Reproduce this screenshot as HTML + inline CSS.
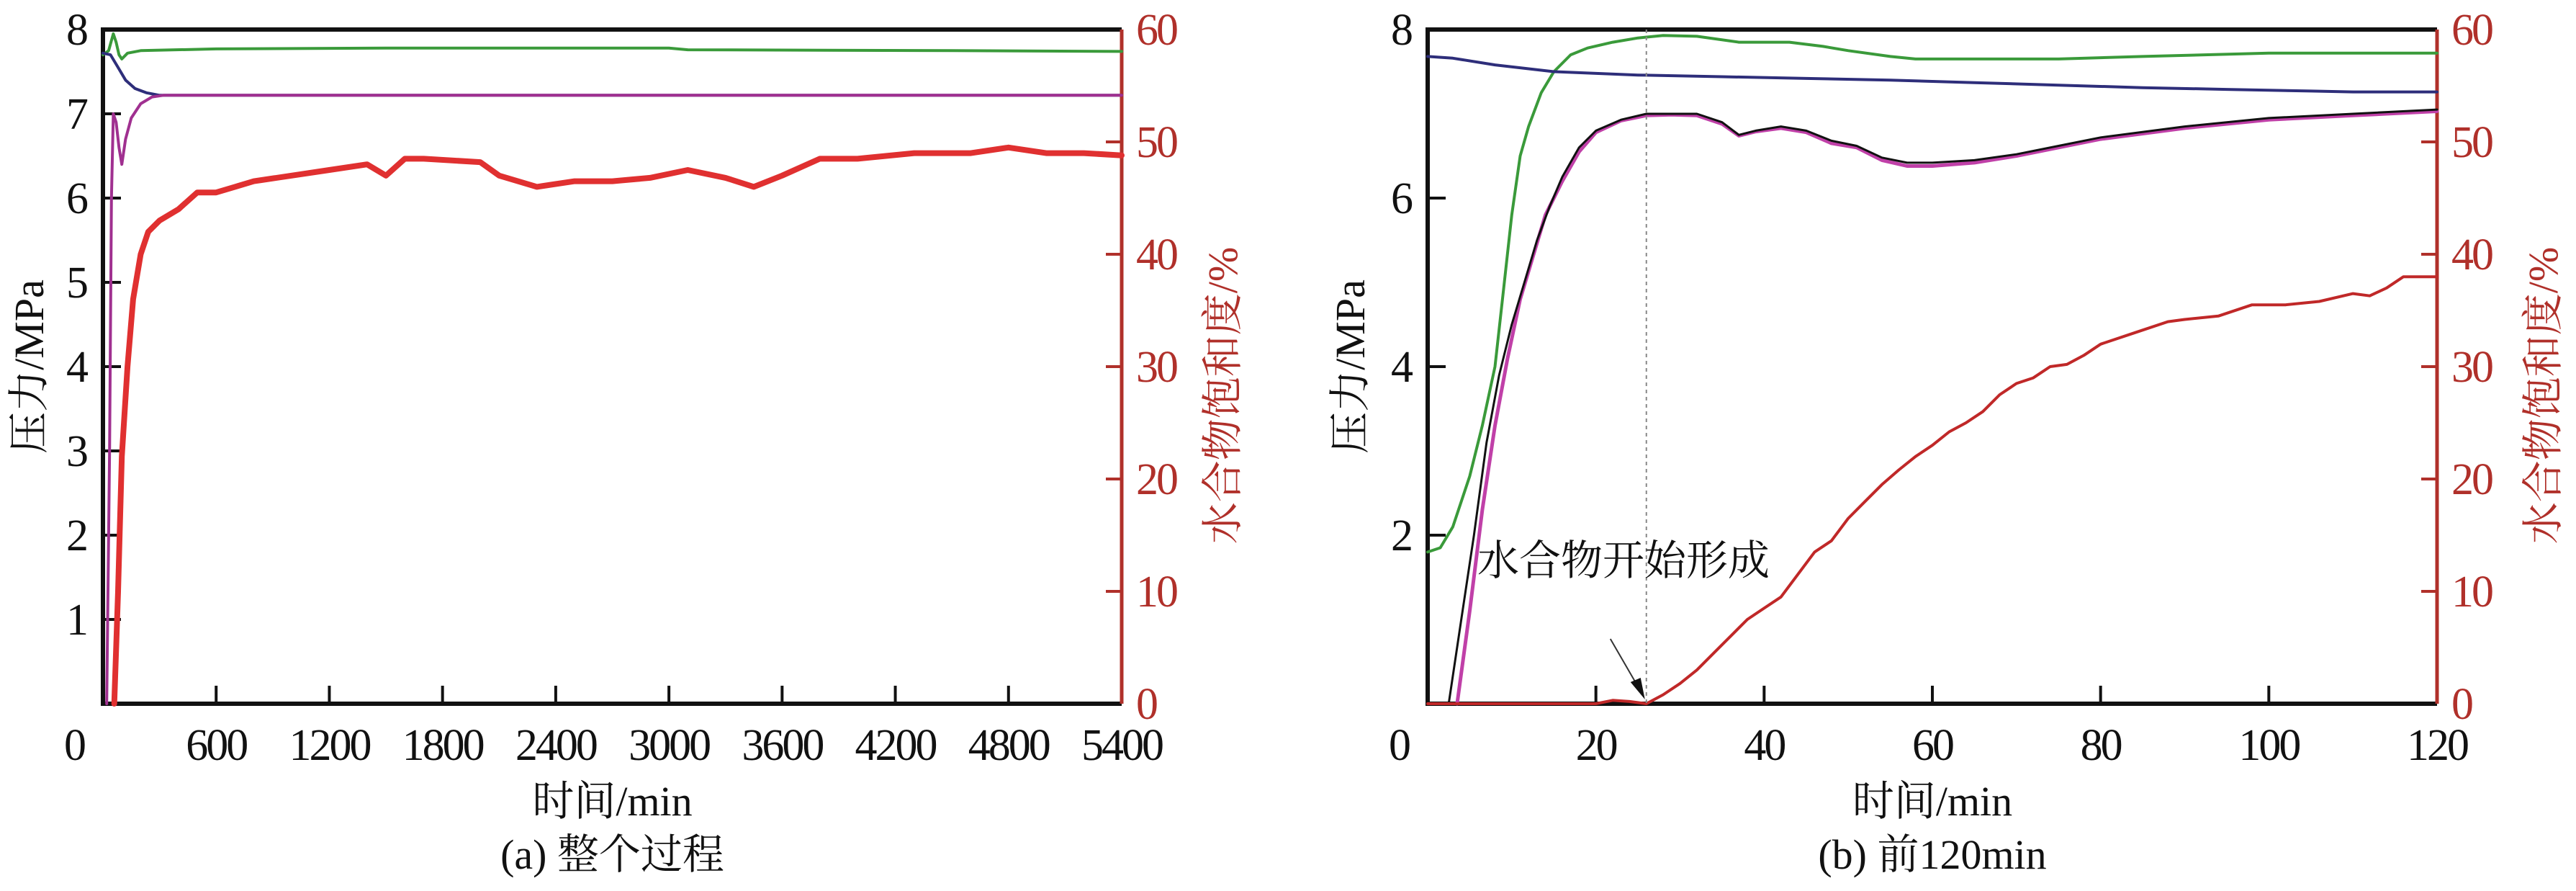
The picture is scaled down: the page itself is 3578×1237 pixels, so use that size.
<!DOCTYPE html>
<html><head><meta charset="utf-8">
<style>
html,body{margin:0;padding:0;background:#fff;}
svg{display:block;}
text{font-family:"Liberation Serif","Noto Serif CJK SC","Noto Sans CJK SC",serif;}
</style></head>
<body>
<svg id="fig" width="3578" height="1237" viewBox="0 0 3578 1237" xmlns="http://www.w3.org/2000/svg"></svg>
<script>
// ---------- Data: chart (a) whole process ----------
const aXTicks = [0,600,1200,1800,2400,3000,3600,4200,4800,5400];
const aYTicks = [1,2,3,4,5,6,7,8];
const aSTicks = [0,10,20,30,40,50,60];
const aGreenT = [0,30,55,70,85,100,130,200,600,1500,3000,3100,4500,5400];
const aGreenP = [7.7,7.75,7.95,7.85,7.7,7.65,7.72,7.75,7.77,7.78,7.78,7.76,7.75,7.74];
const aBlueT = [0,40,80,120,170,230,300,1000,3000,5400];
const aBlueP = [7.72,7.7,7.55,7.4,7.3,7.25,7.22,7.22,7.22,7.22];
const aMagT = [20,35,45,55,70,85,100,120,150,200,260,320,5400];
const aMagP = [0,3,6,7.0,6.9,6.6,6.4,6.7,6.95,7.12,7.2,7.22,7.22];
const aRedT = [60,80,100,130,160,200,240,300,400,500,600,700,800,1000,1200,1400,1500,1600,1700,2000,2100,2300,2500,2700,2900,3100,3300,3450,3600,3800,4000,4300,4600,4800,5000,5200,5400];
const aRedS = [0,10,22,30,36,40,42,43,44,45.5,45.5,46,46.5,47,47.5,48,47,48.5,48.5,48.2,47,46,46.5,46.5,46.8,47.5,46.8,46,47,48.5,48.5,49,49,49.5,49,49,48.8];
// ---------- Data: chart (b) first 120 min ----------
const bXTicks = [0,20,40,60,80,100,120];
const bYTicks = [2,4,6,8];
const bSTicks = [0,10,20,30,40,50,60];
const bGreenT = [0,1.5,3,5,6.5,8,9,10,11,12,13.5,15,17,19,22,25,28,32,37,43,47,50,55,58,65,75,85,100,120];
const bGreenP = [1.8,1.85,2.1,2.7,3.3,4.0,4.9,5.8,6.5,6.85,7.25,7.5,7.7,7.78,7.85,7.9,7.93,7.92,7.85,7.85,7.8,7.75,7.68,7.65,7.65,7.65,7.68,7.72,7.72];
const bBlueT = [0,3,8,15,25,35,45,55,65,75,85,95,105,110,120];
const bBlueP = [7.68,7.66,7.58,7.5,7.46,7.44,7.42,7.4,7.37,7.34,7.31,7.29,7.27,7.26,7.26];
const bBlackT = [2.5,4,5.5,7,8.5,10,11.5,13,14.5,16,18,20,23,26,29,32,35,37,39,42,45,48,51,54,57,60,65,70,75,80,90,100,110,120];
const bBlackP = [0,1,2,3.1,3.9,4.5,5.0,5.5,5.9,6.25,6.6,6.8,6.93,7.0,7.0,7.0,6.9,6.75,6.8,6.85,6.8,6.68,6.62,6.48,6.42,6.42,6.45,6.52,6.62,6.72,6.85,6.95,7.0,7.05];
const bMagT = [3.5,5,6.5,8,9.5,11,12.5,14,16,18,20,23,26,29,32,35,37,39,42,45,48,51,54,57,60,65,70,75,80,90,100,110,120];
const bMagP = [0,1.1,2.3,3.3,4.1,4.8,5.3,5.8,6.2,6.55,6.78,6.92,6.98,6.99,6.98,6.88,6.74,6.79,6.83,6.78,6.65,6.6,6.45,6.38,6.38,6.42,6.5,6.6,6.7,6.83,6.93,6.98,7.03];
const bRedT = [0,20,22,24,26,28,30,32,34,36,38,40,42,44,46,48,50,52,54,56,58,60,62,64,66,68,70,72,74,76,78,80,84,88,90,94,98,102,106,110,112,114,116,120];
const bRedS = [0,0,0.3,0.2,0,0.8,1.8,3,4.5,6,7.5,8.5,9.5,11.5,13.5,14.5,16.5,18,19.5,20.8,22,23,24.2,25,26,27.5,28.5,29,30,30.2,31,32,33,34,34.2,34.5,35.5,35.5,35.8,36.5,36.3,37,38,38];
const bOnsetT = [26];

const NS = "http://www.w3.org/2000/svg";
const svg = document.getElementById('fig');
function el(tag, attrs, parent, txt){
  const e = document.createElementNS(NS, tag);
  for (const k in attrs) e.setAttribute(k, attrs[k]);
  if (txt !== undefined) e.textContent = txt;
  (parent||svg).appendChild(e);
  return e;
}
const RED = "#b0302a";
const FS = 62;

function chart(cfg){
  const g = el('g', {});
  
  
  const L=cfg.L, R=cfg.R, T=cfg.T, B=cfg.B;
  const xs = v => L + (v - cfg.xmin)/(cfg.xmax - cfg.xmin)*(R-L);
  const yp = v => B - v/8*(B-T);
  const ys = v => B - v/60*(B-T);
  let f = el('path', {d:`M${R},${T} L${L},${T} L${L},${B} L${R},${B}`, fill:'none', stroke:'#111', 'stroke-width':6}, g);
  
  
  let ra = el('line', {x1:R, y1:T, x2:R, y2:B, stroke:RED, 'stroke-width':5}, g);
  
  
  cfg.xt.forEach(v=>{
    if (v>cfg.xmin && v<cfg.xmax){
      const t = el('line',{x1:xs(v),y1:B,x2:xs(v),y2:B-25,stroke:'#111','stroke-width':4},g);
      
      
    }
    const lx = v===cfg.xmin ? xs(v)-40 : xs(v);
    const lb = el('text',{x:lx,y:B+78,'font-size':FS,'text-anchor':'middle',fill:'#111','letter-spacing':-3},g,String(v));
    
    
  });
  cfg.yt.forEach(v=>{
    if (v<8){
      const t = el('line',{x1:L,y1:yp(v),x2:L+25,y2:yp(v),stroke:'#111','stroke-width':4},g);
      
      
    }
    const lb = el('text',{x:L-20,y:yp(v)+21,'font-size':FS,'text-anchor':'end',fill:'#111'},g,String(v));
    
    
  });
  cfg.st.forEach(v=>{
    if (v>0 && v<60){
      const t = el('line',{x1:R,y1:ys(v),x2:R-22,y2:ys(v),stroke:RED,'stroke-width':4},g);
      
      
    }
    const lb = el('text',{x:R+20,y:ys(v)+21,'font-size':FS,'text-anchor':'start',fill:RED,'letter-spacing':-3},g,String(v));
    
    
  });
  function line(T_, V_, sc, color, w, name){
    let d='';
    for(let i=0;i<T_.length;i++){ d += (i?'L':'M') + xs(T_[i]).toFixed(1)+','+sc(V_[i]).toFixed(1); }
    const p = el('path',{d, fill:'none', stroke:color, 'stroke-width':w, 'stroke-linejoin':'round','stroke-linecap':'round'},g);
    
    
  }
  cfg.series.forEach(s=>line(s.t,s.v,s.s==='S'?ys:yp,s.c,s.w,s.n));
  const xt = el('text',{x:(L+R)/2,y:1132,'font-size':58,'text-anchor':'middle',fill:'#111'},g,'时间/min');
  
  
  const cap = el('text',{x:(L+R)/2,y:1206,'font-size':58,'text-anchor':'middle',fill:'#111'},g,cfg.caption);
  
  
  const yl = el('text',{x:0,y:0,'font-size':58,'text-anchor':'middle',fill:'#111',transform:`translate(${cfg.ylx},${(T+B)/2}) rotate(-90)`},g,'压力/MPa');
  
  
  const yr = el('text',{x:0,y:0,'font-size':58,'text-anchor':'middle',fill:RED,transform:`translate(${cfg.yrx},${(T+B)/2+40}) rotate(-90)`},g,'水合物饱和度/%');
  
  
  return {g,xs,yp,ys,T,B};
}

chart({name:'chart-a-whole-process',L:143,R:1558,T:41,B:977,xmin:0,xmax:5400,
  xt:aXTicks,yt:aYTicks,st:aSTicks,caption:'(a) 整个过程',ylx:60,yrx:1718,
  series:[
    {t:aRedT,v:aRedS,s:'S',c:'#e03030',w:8,n:'saturation-line'},
    {t:aGreenT,v:aGreenP,s:'P',c:'#3a9a3a',w:4,n:'green-pressure-line'},
    {t:aBlueT,v:aBlueP,s:'P',c:'#2e2e7a',w:4,n:'blue-pressure-line'},
    {t:aMagT,v:aMagP,s:'P',c:'#a03090',w:4,n:'magenta-pressure-line'}
  ]});

const cb = chart({name:'chart-b-first-120min',L:1983,R:3385,T:41,B:977,xmin:0,xmax:120,
  xt:bXTicks,yt:bYTicks,st:bSTicks,caption:'(b) 前120min',ylx:1895,yrx:3552,
  series:[
    {t:bGreenT,v:bGreenP,s:'P',c:'#3a9a3a',w:4,n:'green-pressure-line'},
    {t:bBlueT,v:bBlueP,s:'P',c:'#2e2e7a',w:4,n:'blue-pressure-line'},
    {t:bMagT,v:bMagP,s:'P',c:'#c040a8',w:5,n:'magenta-pressure-line'},
    {t:bBlackT,v:bBlackP,s:'P',c:'#111',w:3,n:'black-pressure-line'},
    {t:bRedT,v:bRedS,s:'S',c:'#c02828',w:4,n:'saturation-line'}
  ]});
const ox = cb.xs(bOnsetT[0]);
const vl = el('line',{x1:ox,y1:cb.T,x2:ox,y2:cb.B,stroke:'#888','stroke-width':2,'stroke-dasharray':'5,5'},cb.g);


const ann = el('text',{x:2052,y:798,'font-size':58,fill:'#111'},cb.g,'水合物开始形成');


const arr = el('line',{x1:ox-50,y1:cb.B-90,x2:ox-6,y2:cb.B-14,stroke:'#333','stroke-width':2},cb.g);


const ah = el('path',{d:`M${ox-2},${cb.B-6} L${ox-22},${cb.B-30} L${ox-8},${cb.B-36} Z`,fill:'#111'},cb.g);


</script>
</body></html>
